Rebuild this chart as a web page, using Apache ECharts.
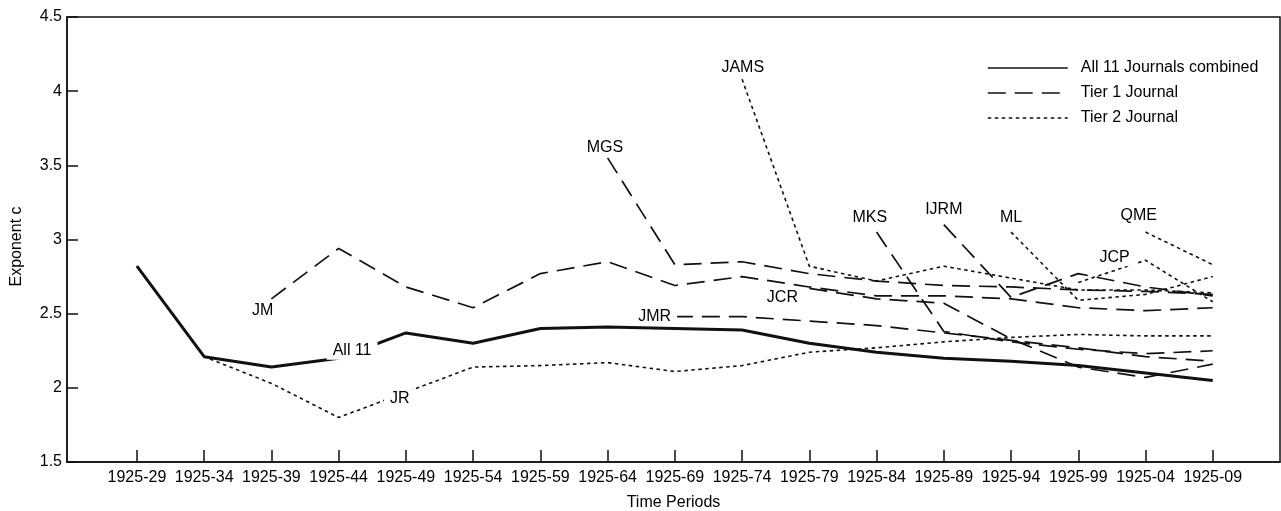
<!DOCTYPE html>
<html>
<head>
<meta charset="utf-8">
<script src="https://cdn.jsdelivr.net/npm/echarts@6/dist/echarts.min.js"></script>
<style>
  html, body { margin: 0; padding: 0; background: #fff; }
  #chart { width: 1281px; height: 511px; }
</style>
</head>
<body>
<div id="chart"></div>
<script>
// periods on the x axis
var categories = ['1925-29', '1925-34', '1925-39', '1925-44', '1925-49', '1925-54', '1925-59', '1925-64', '1925-69',
  '1925-74', '1925-79', '1925-84', '1925-89', '1925-94', '1925-99', '1925-04', '1925-09'];
var yTicks = [1.5, 2, 2.5, 3, 3.5, 4, 4.5];

// all journals
var all11 = [2.82, 2.21, 2.14, 2.20, 2.37, 2.30, 2.40, 2.41, 2.40, 2.39, 2.30, 2.24, 2.20, 2.18, 2.15, 2.10, 2.05];

// tier 1 journals
var jm = [null, null, 2.60, 2.94, 2.68, 2.54, 2.77, 2.85, 2.69, 2.75, 2.68, 2.62, 2.62, 2.60, 2.54, 2.52, 2.54];
var mgs = [null, null, null, null, null, null, null, 3.55, 2.83, 2.85, 2.77, 2.72, 2.69, 2.68, 2.66, 2.65, 2.63];
var jmr = [null, null, null, null, null, null, null, null, 2.48, 2.48, 2.45, 2.42, 2.37, 2.32, 2.27, 2.21, 2.18];
var jcr = [null, null, null, null, null, null, null, null, null, null, 2.67, 2.60, 2.57, 2.33, 2.14, 2.07, 2.16];
var mks = [null, null, null, null, null, null, null, null, null, null, null, 3.05, 2.38, 2.31, 2.26, 2.23, 2.25];
var ijrm = [null, null, null, null, null, null, null, null, null, null, null, null, 3.10, 2.61, 2.77, 2.68, 2.62];

// tier 2 journals
var jr = [2.82, 2.21, 2.03, 1.80, 1.97, 2.14, 2.15, 2.17, 2.11, 2.15, 2.24, 2.27, 2.31, 2.34, 2.36, 2.35, 2.35];
var jams = [null, null, null, null, null, null, null, null, null, 4.08, 2.82, 2.72, 2.82, 2.74, 2.66, 2.66, 2.64];
var ml = [null, null, null, null, null, null, null, null, null, null, null, null, null, 3.05, 2.59, 2.63, 2.75];
var jcp = [null, null, null, null, null, null, null, null, null, null, null, null, null, null, 2.71, 2.86, 2.58];
var qme = [null, null, null, null, null, null, null, null, null, null, null, null, null, null, null, 3.05, 2.83];

var tier1 = [jm, mgs, jmr, jcr, mks, ijrm];
var tier2 = [jr, jams, ml, jcp, qme];

var ink = '#111';
var font = 'Liberation Sans, Arial, sans-serif';

function toPoints(arr) {
  var pts = [];
  arr.forEach(function (v, i) {
    if (v !== null) pts.push([i, v]);
  });
  return pts;
}

function lineSeries(name, arr, width, dash) {
  return {
    name: name,
    type: 'line',
    data: toPoints(arr),
    symbol: 'none',
    silent: true,
    lineStyle: { color: ink, width: width, type: dash },
    itemStyle: { color: ink }
  };
}

var series = [];
tier1.forEach(function (arr) {
  series.push(lineSeries('Tier 1 Journal', arr, 1.7, [18, 9]));
});
tier2.forEach(function (arr) {
  series.push(lineSeries('Tier 2 Journal', arr, 1.6, [3.5, 3.5]));
});
series.push(lineSeries('All 11 Journals combined', all11, 3, 'solid'));

// journal name tags, white box breaks the line behind them
var tags = [
  ['JM', 1.87, 2.52], ['All 11', 3.2, 2.25], ['JR', 3.91, 1.93], ['MGS', 6.96, 3.62],
  ['JAMS', 9.01, 4.16], ['JMR', 7.70, 2.48], ['JCR', 9.6, 2.61], ['MKS', 10.9, 3.15],
  ['IJRM', 12.0, 3.20], ['ML', 13.0, 3.15], ['QME', 14.9, 3.16], ['JCP', 14.54, 2.88]
];
series.push({
  type: 'scatter',
  name: 'tags',
  silent: true,
  z: 10,
  symbolSize: 0,
  itemStyle: { opacity: 1, color: '#fff' },
  data: tags.map(function (t) { return { name: t[0], value: [t[1], t[2]] }; }),
  label: {
    show: true,
    position: 'inside',
    formatter: '{b}',
    color: '#000',
    fontSize: 16,
    fontFamily: font,
    backgroundColor: '#fff',
    padding: [1, 6]
  }
});

var chart = echarts.init(document.getElementById('chart'));
var option = {
  animation: false,
  textStyle: { fontFamily: font },
  grid: {
    left: 67, right: 1, top: 17, bottom: 49,
    outerBoundsMode: 'none',
    containLabel: false,
    show: true, borderColor: ink, borderWidth: 1.5
  },
  legend: {
    data: ['All 11 Journals combined', 'Tier 1 Journal', 'Tier 2 Journal'],
    orient: 'vertical',
    left: 982,
    top: 55,
    itemWidth: 80,
    itemHeight: 14,
    itemGap: 9,
    lineStyle: { width: 1.5 },
    itemStyle: { opacity: 0, color: 'transparent', borderWidth: 0 },
    textStyle: { fontSize: 16, color: '#000', fontFamily: font, padding: [0, 0, 0, 8] }
  },
  xAxis: {
    type: 'value',
    min: -1.04,
    max: 17,
    name: 'Time Periods',
    nameLocation: 'middle',
    nameGap: 33,
    nameTextStyle: { fontSize: 16, color: '#000' },
    axisLine: { onZero: false, lineStyle: { color: ink, width: 1.5 } },
    axisTick: {
      inside: true, length: 12, lineStyle: { color: ink, width: 1.5 },
      customValues: categories.map(function (c, i) { return i; })
    },
    axisLabel: {
      fontSize: 16, color: '#000', margin: 8,
      customValues: categories.map(function (c, i) { return i; }),
      formatter: function (v) { return categories[Math.round(v)] || ''; }
    },
    splitLine: { show: false }
  },
  yAxis: {
    type: 'value',
    min: yTicks[0],
    max: yTicks[yTicks.length - 1],
    interval: 0.5,
    name: 'Exponent c',
    nameLocation: 'middle',
    nameGap: 42,
    nameTextStyle: { fontSize: 16, color: '#000', padding: [0, 14, 0, 0] },
    axisLine: { show: true, onZero: false, lineStyle: { color: ink, width: 1.5 } },
    axisTick: { inside: true, length: 11, lineStyle: { color: ink, width: 1.5 } },
    axisLabel: { fontSize: 16, color: '#000', margin: 5 },
    splitLine: { show: false }
  },
  series: series
};
chart.setOption(option);
</script>
</body>
</html>
